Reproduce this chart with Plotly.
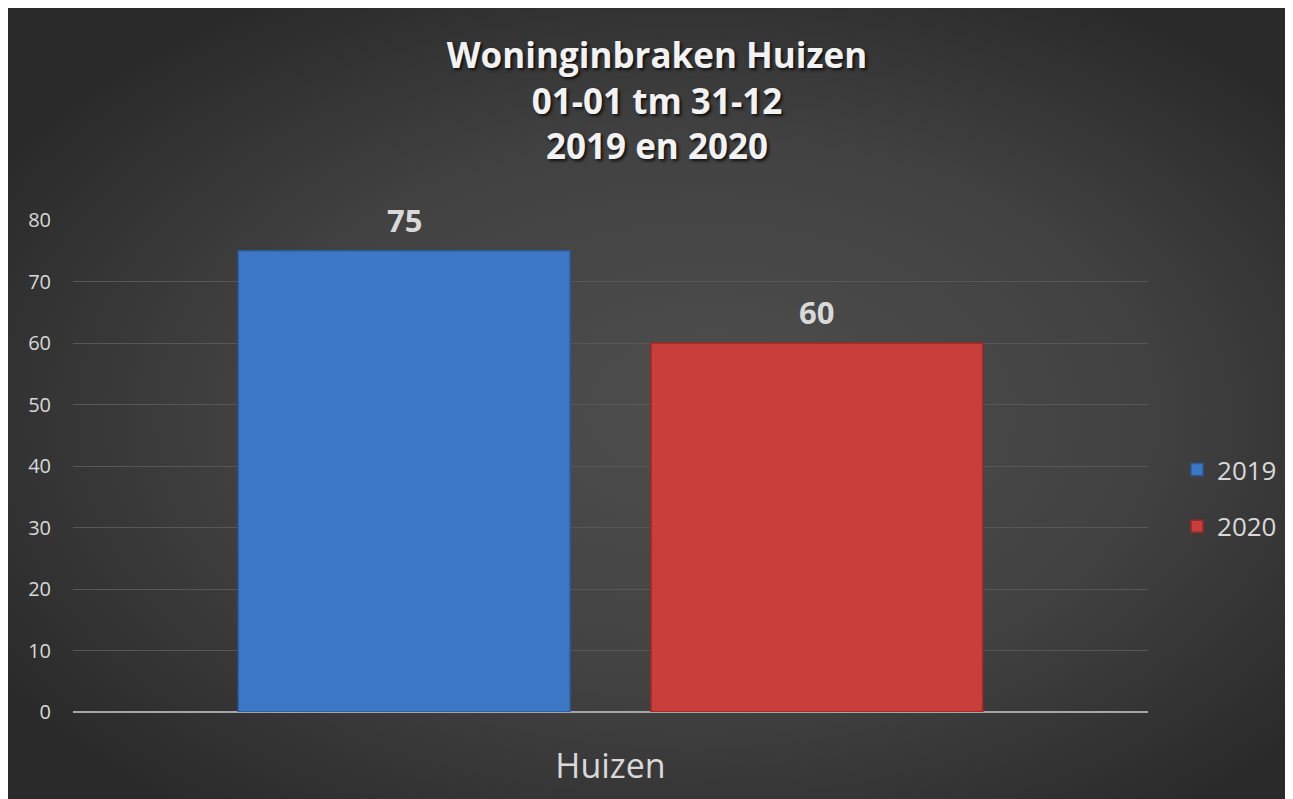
import base64
import plotly.graph_objects as go

categories = ["Huizen"]
series_names = ["2019", "2020"]
values_2019 = [75]
values_2020 = [60]
y_ticks = [0, 10, 20, 30, 40, 50, 60, 70, 80]

colors = {"2019": "#3d78c6", "2020": "#c93e3b"}
edge = {"2019": "#2d5a99", "2020": "#962a28"}

W, H = 1293, 799
L, R, T, B = 65, 1140, 212, 704
pw, ph = R - L, B - T

# background gradient (decoration only)
svg = (
    f'<svg xmlns="http://www.w3.org/2000/svg" width="{W}" height="{H}" viewBox="0 0 {W} {H}" preserveAspectRatio="none">'
    '<defs><radialGradient id="g" cx="0.52" cy="0.52" r="0.62" fx="0.55" fy="0.5">'
    '<stop offset="0" stop-color="#4e4e4e"/><stop offset="0.55" stop-color="#424242"/>'
    '<stop offset="1" stop-color="#2a2a2a"/></radialGradient></defs>'
    f'<rect width="{W}" height="{H}" fill="url(#g)"/></svg>'
)
src = "data:image/svg+xml;base64," + base64.b64encode(svg.encode()).decode()

x0 = -L / pw
x1 = (W - L) / pw
y0 = B / ph
y1 = (B - H) / ph

fig = go.Figure()
for name, vals in zip(series_names, [values_2019, values_2020]):
    fig.add_trace(go.Bar(
        x=categories, y=vals, name=name,
        marker=dict(color=colors[name], line=dict(color=edge[name], width=1.5)),
        legendgroup=name,
    ))

annotations = []
for i, (name, vals) in enumerate(zip(series_names, [values_2019, values_2020])):
    for c, v in zip(categories, vals):
        annotations.append(dict(
            x=c, y=v, xref="x", yref="y", text=f"<b>{v}</b>", showarrow=False,
            yanchor="bottom", yshift=8, xshift=(-206 if i == 0 else 206),
            font=dict(family="Open Sans", size=31, color="#d9d9d9"),
        ))

fig.update_layout(
    width=W, height=H,
    margin=dict(l=L, r=W - R, t=T, b=H - B, pad=0),
    paper_bgcolor="#2a2a2a",
    plot_bgcolor="rgba(0,0,0,0)",
    barmode="group", bargap=0.232, bargroupgap=0.196,
    title=dict(
        text="<b>Woninginbraken Huizen<br>01-01 tm 31-12<br>2019 en 2020</b>",
        x=649 / W, xanchor="center", y=1 - 60 / H, yanchor="middle",
        font=dict(family="Open Sans", size=35, color="#f2f2f2", shadow="2px 2px 3px #111"),
        xref="container", yref="container",
    ),
    images=[dict(source=src, xref="paper", yref="paper", x=x0, y=y0,
                 sizex=x1 - x0, sizey=y0 - y1, sizing="stretch", layer="below",
                 xanchor="left", yanchor="top")],
    yaxis=dict(
        range=[0, 80], tickvals=y_ticks, showgrid=True, gridcolor="#575757", gridwidth=1,
        zeroline=True, zerolinecolor="#a6a6a6", zerolinewidth=2,
        tickfont=dict(family="Open Sans", size=20, color="#d9d9d9"),
        ticks="", ticklabelstandoff=21, showline=False, automargin=False,
    ),
    xaxis=dict(
        tickfont=dict(family="Open Sans", size=34, color="#d9d9d9"),
        ticks="", ticklabelstandoff=31, showline=False, showgrid=False, automargin=False,
    ),
    legend=dict(
        x=1.027, y=0.435, xanchor="left", yanchor="middle",
        font=dict(family="Open Sans", size=26, color="#d9d9d9"),
        bgcolor="rgba(0,0,0,0)", tracegroupgap=20, traceorder="grouped",
        itemwidth=30,
    ),
    annotations=annotations,
    showlegend=True,
)

fig.write_html("out.html")
